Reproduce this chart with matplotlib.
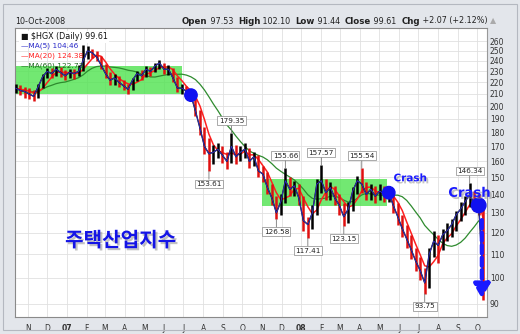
import matplotlib
matplotlib.use("Agg")
import matplotlib.pyplot as plt
import matplotlib.dates as mdates
import matplotlib.patheffects as pe
from matplotlib.patches import Rectangle
from matplotlib.ticker import FixedLocator, NullLocator, NullFormatter
import pandas as pd

# weekly bars ($HGX, Oct-2006 .. 10-Oct-2008)
dates = pd.date_range("2006-10-13", "2008-10-10", freq="W-FRI")
closes = [215, 213, 212, 210, 208, 216, 225, 230, 228, 232,
          229, 226, 229, 228, 230, 240, 250, 248, 244, 236,
          228, 222, 224, 220, 217, 214, 222, 228, 226, 232,
          230, 235, 238, 232, 232, 224, 215, 215, 212, 209,
          196, 183, 170, 165, 166, 168, 164, 160, 170, 163,
          166, 168, 160, 163, 154, 152, 144, 138, 130, 136,
          148, 143, 145, 138, 126, 124, 130, 146, 148, 141,
          144, 138, 134, 128, 132, 142, 148, 146, 140, 143,
          139, 142, 140, 141, 134, 128, 122, 117, 112, 107,
          103, 98, 110, 116, 114, 119, 121, 124, 129, 132,
          136, 140, 135, 134, 99.61]
highs = [219, 218, 216, 215, 213, 219, 228, 233, 233, 235,
         234, 231, 232, 232, 236, 256, 255, 252, 250, 245,
         237, 229, 228, 226, 222, 219, 224, 230, 231, 235,
         234, 238, 241, 238, 236, 233, 225, 219, 217, 213,
         208, 197, 184, 176, 171, 172, 170, 166, 179.35, 171,
         170, 172, 169, 166, 164, 157, 153, 146, 139, 140,
         155.66, 150, 148, 146, 139, 128, 134, 149, 157.57, 149,
         147, 145, 140, 135, 136, 144, 151, 155.54, 147, 146,
         145, 146, 145, 145, 141, 135, 129, 124, 119, 113,
         109, 104, 113, 121, 119, 122, 125, 127, 131, 136,
         139, 146.34, 142, 140, 133]
lows = [211, 209, 207, 206, 204, 207, 215, 224, 224, 226,
        225, 222, 224, 223, 226, 230, 242, 243, 240, 232,
        224, 218, 218, 216, 213, 210, 213, 221, 222, 225,
        226, 229, 232, 228, 227, 220, 212, 210, 208, 204,
        192, 178, 165, 153.61, 158, 162, 159, 155, 159, 158,
        160, 162, 156, 157, 150, 147, 140, 134, 126.58, 129,
        135, 139, 139, 134, 121, 117.41, 122, 129, 141, 137,
        137, 134, 129, 123.15, 125, 131, 140, 141, 137, 137,
        135, 137, 136, 136, 130, 124, 118, 113, 108, 103,
        99, 93.75, 96, 109, 106, 112, 116, 118, 121, 126,
        129, 133, 131, 129, 91.44]

# labelled extremes: (week index, 'high' or 'low')
marked = [(43, "low"), (48, "high"), (58, "low"), (60, "high"), (65, "low"),
          (68, "high"), (73, "low"), (77, "high"), (91, "low"), (101, "high")]
dot_weeks = [39, 83, 103]

# shaded consolidation boxes (start, end, low, high)
bands = [("2006-10-12", "2007-06-29", 210, 235),
         ("2007-11-01", "2008-05-14", 133.6, 148.9)]

yticks = list(range(90, 270, 10))

s = pd.Series(closes)
ma5 = s                                   # weekly close ~ 5-day average
ma20 = s.rolling(4, min_periods=1).mean()
ma60 = s.rolling(12, min_periods=1).mean()

fig = plt.figure(figsize=(5.2, 3.34), dpi=100, facecolor="#e3e6eb")
fig.patches.append(Rectangle((0.006, 0.012), 0.988, 0.976, transform=fig.transFigure,
                             fc="none", ec="#b4b8c0", lw=0.8))
ax = fig.add_axes([15/520, 17/334, 472/520, 289/334])
ax.set_facecolor("white")

for a, b, lo, hi in bands:
    x0 = mdates.date2num(pd.Timestamp(a)); x1 = mdates.date2num(pd.Timestamp(b))
    ax.add_patch(Rectangle((x0, lo), x1 - x0, hi - lo, fc="#4fe34f", ec="none",
                           alpha=0.8, zorder=1))

ax.plot(dates, ma60, color="#2e8b2e", lw=0.9, zorder=3)
ax.plot(dates, ma20, color="#ff2020", lw=1.1, zorder=3)

cols = ["black" if i == 0 or closes[i] >= closes[i-1] else "#e01010" for i in range(len(closes))]
ax.vlines(dates, lows, highs, colors=cols, lw=1.8, zorder=4)
ax.plot(dates, closes, color="#111111", lw=1.0, zorder=4)
ax.plot(dates, ma5, color="#3030d0", lw=0.6, zorder=5)

for i, side in marked:
    v = highs[i] if side == "high" else lows[i]
    off = 9 if side == "high" else -9
    ax.annotate(f"{v:.2f}", xy=(dates[i], v), xytext=(0, off), textcoords="offset points",
                ha="center", va="center", fontsize=5.2, color="#222",
                bbox=dict(boxstyle="square,pad=0.2", fc="white", ec="#888", lw=0.5),
                arrowprops=dict(arrowstyle="-", color="#777", lw=0.6, shrinkA=0, shrinkB=0),
                zorder=6)

ax.scatter([dates[i] for i in dot_weeks], [closes[i] for i in dot_weeks],
           s=[80, 80, 110], color="#1010f0", zorder=7)

ax.set_yscale("log")
ax.set_ylim(85.4, 274)
ax.set_xlim(mdates.date2num(pd.Timestamp("2006-10-12")), mdates.date2num(pd.Timestamp("2008-10-16")))
ax.yaxis.set_major_locator(FixedLocator(yticks))
ax.yaxis.set_minor_locator(NullLocator())
ax.yaxis.set_minor_formatter(NullFormatter())
ax.set_yticklabels([str(t) for t in yticks])
ax.yaxis.tick_right()

months = pd.date_range("2006-11-01", "2008-10-01", freq="MS")
ax.set_xticks(months)
ax.set_xticklabels([m.strftime("%y") if m.month == 1 else m.strftime("%b")[0] for m in months])
for lab, m in zip(ax.get_xticklabels(), months):
    if m.month == 1:
        lab.set_fontweight("bold")
ax.tick_params(axis="both", length=0, labelsize=5.5, colors="#333")
ax.tick_params(axis="x", pad=5)
ax.tick_params(axis="y", pad=2)
ax.grid(True, color="#e0e0e0", lw=0.6, zorder=0)
ax.set_axisbelow(True)
for sp in ["left", "bottom", "top"]:
    ax.spines[sp].set_color("#8a8a8a")
ax.spines["right"].set_color("#999")
ax.spines["right"].set_linestyle((0, (1, 1)))

# header line: pieces chained one after another
fig.text(15/520, 1 - 21/334, "10-Oct-2008", fontsize=5.8, color="#222", va="center")
parts = [("Open", True), (" 97.53  ", False), ("High", True), (" 102.10  ", False),
         ("Low", True), (" 91.44  ", False), ("Close", True), (" 99.61  ", False),
         ("Chg", True), (" +2.07 (+2.12%) ", False), ("\u25b2", False)]
prev = fig.text(182/520, 1 - 21/334, parts[0][0], fontsize=6.2, fontweight="bold",
                color="#222", va="center")
for txt, bold in parts[1:]:
    prev = ax.annotate(txt, xy=(1, 0), xycoords=prev, va="bottom", ha="left",
                       fontsize=6.2 if bold else 5.8, fontweight="bold" if bold else "normal",
                       color="#aaa" if txt == "\u25b2" else "#222", annotation_clip=False)

# legend block
ax.text(0.012, 0.985, "\u25a0 $HGX (Daily) 99.61", transform=ax.transAxes, fontsize=5.8,
        va="top", color="#111", bbox=dict(boxstyle="square,pad=0.15", fc="white", ec="none"), zorder=8)
for j, (lab, c) in enumerate([("MA(5) 104.46", "#2828c8"), ("MA(20) 124.38", "#ff2020"),
                              ("MA(60) 122.73", "#1d661d")]):
    ax.text(0.012, 0.95 - j * 0.034, "\u2014" + lab, transform=ax.transAxes, fontsize=5.3,
            va="top", color=c, zorder=8)

shadow = [pe.withSimplePatchShadow(offset=(1.5, -1.5), shadow_rgbFace="#888", alpha=0.5)]
ax.text(0.802, 0.48, "Crash", transform=ax.transAxes, fontsize=7.5, fontweight="bold",
        color="#1a1aff", va="center", path_effects=shadow, zorder=8)
ax.text(0.918, 0.428, "Crash", transform=ax.transAxes, fontsize=9.5, fontweight="bold",
        color="#1a1aff", va="center", path_effects=shadow, zorder=8)
ax.text(0.106, 0.266, "주택산업지수", transform=ax.transAxes, fontsize=14.5, fontweight="bold",
        family=["Noto Sans CJK KR", "DejaVu Sans"], color="#1414e6", va="center",
        path_effects=shadow, zorder=8)

ax.annotate("", xy=(0.989, 0.055), xytext=(0.989, 0.345), xycoords="axes fraction",
            arrowprops=dict(arrowstyle="-|>,head_width=0.4,head_length=0.7", color="#1a1aff",
                            lw=3.0, ls=(0, (2, 1)), mutation_scale=12), zorder=8)

fig.savefig("out.png", dpi=100, facecolor=fig.get_facecolor())
